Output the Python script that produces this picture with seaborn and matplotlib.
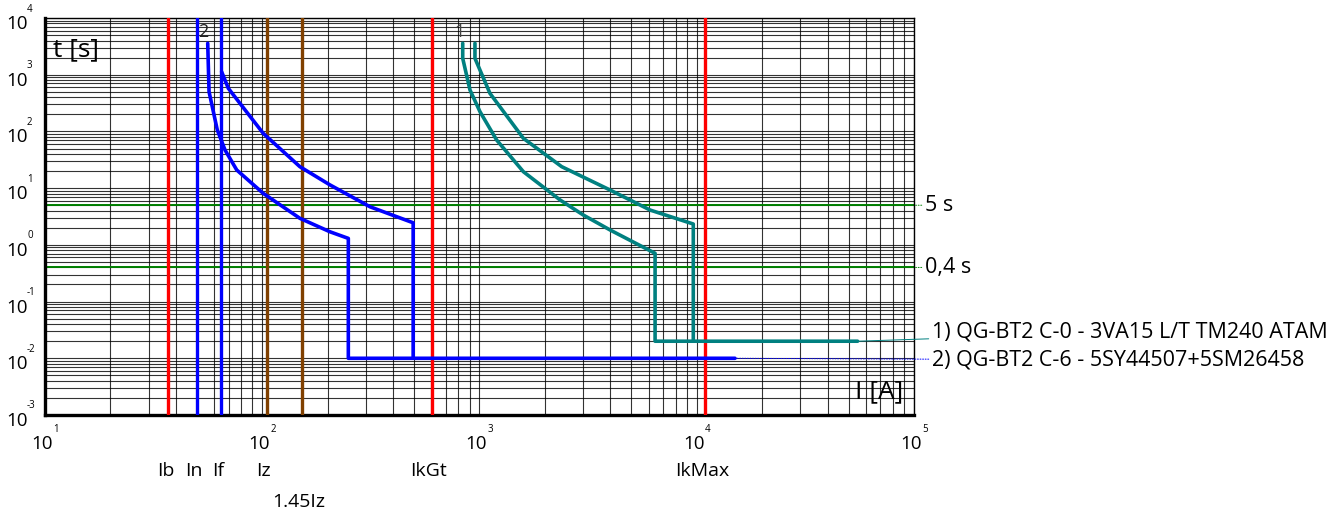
import numpy as np
import pandas as pd
import matplotlib
matplotlib.use("Agg")
import matplotlib.pyplot as plt
import seaborn as sns

# tripping curves (I [A], t [s])
c2_low_I = [56.1, 56.9, 62.1, 67.4, 76.3, 101, 149, 205, 249, 249, 15000]
c2_low_t = [3580, 502, 106, 47, 20.9, 8.1, 2.94, 1.7, 1.3, 0.01, 0.01]
c2_high_I = [65, 69.8, 101, 149, 205, 313, 495, 495]
c2_high_t = [1130, 575, 92.6, 23.9, 11.4, 4.7, 2.45, 0.01]

c1_low_I = [837, 837, 904, 1005, 1199, 1592, 2350, 3004, 3990, 6430, 6430, 55000]
c1_low_t = [3580, 1946, 538, 223, 70.6, 19.5, 6.18, 3.36, 1.83, 0.71, 0.02, 0.02]
c1_high_I = [953, 953, 1117, 1592, 2390, 3990, 6100, 9640, 9640]
c1_high_t = [3580, 1946, 470, 75.6, 23.9, 9.27, 4.11, 2.33, 0.02]

curve_names = ["1) QG-BT2 C-0 - 3VA15 L/T TM240 ATAM", "2) QG-BT2 C-6 - 5SY44507+5SM26458"]

# characteristic currents
cur_names = ["Ib", "In", "If", "Iz", "1.45Iz", "IkGt", "IkMax"]
cur_values = [37, 50, 64.5, 105, 152, 603, 10900]
cur_colors = ["#ff0000", "#0000ff", "#0000ff", "#804000", "#804000", "#ff0000", "#ff0000"]

# time limits
lim_names = ["5 s", "0,4 s"]
lim_values = [5, 0.4]

rows = []
for curve, branch, I, t in [("1", "1a", c1_low_I, c1_low_t), ("1", "1b", c1_high_I, c1_high_t),
                            ("2", "2a", c2_low_I, c2_low_t), ("2", "2b", c2_high_I, c2_high_t)]:
    for k, (i, tt) in enumerate(zip(I, t)):
        rows.append({"curve": curve, "branch": branch, "order": k, "I": i, "t": tt})
df = pd.DataFrame(rows)

sns.set_style("white")
plt.rcParams['font.family'] = ['Open Sans', 'DejaVu Sans']
plt.rcParams['text.color'] = 'black'

fig = plt.figure(figsize=(13.38, 5.16), dpi=100)
ax = fig.add_axes([45 / 1338, 1 - 415 / 516, 869 / 1338, 397 / 516])
ax.set_xscale("log")
ax.set_yscale("log")
ax.set_xlim(10, 1e5)
ax.set_ylim(1e-3, 1e4)

ax.grid(which="both", color="black", linewidth=0.8, alpha=0.8)
ax.set_axisbelow(True)

for name, val in zip(lim_names, lim_values):
    ax.axhline(val, color="#008000", lw=1.4, zorder=2)
    ax.annotate(name, xy=(1e5, val), xycoords="data",
                xytext=(11, 0), textcoords="offset pixels",
                fontsize=15.5, va="center", ha="left",
                arrowprops=dict(arrowstyle="-", color="#008000", lw=0.7, ls=":",
                                shrinkA=0, shrinkB=0), annotation_clip=False)

for name, val, col in zip(cur_names, cur_values, cur_colors):
    ax.axvline(val, color=col, lw=2.4, zorder=3)
    dy = -87 if name == "1.45Iz" else -56
    ax.annotate(name, xy=(val, 0), xycoords=("data", "axes fraction"),
                xytext=(-3, dy), textcoords="offset pixels",
                ha="center", va="center", fontsize=14, annotation_clip=False)

sns.lineplot(data=df, x="I", y="t", hue="curve", units="branch", estimator=None,
             sort=False, palette={"1": "#008080", "2": "#0000ff"},
             linewidth=2.6, legend=False, ax=ax, zorder=4)

# leader lines to curve names
ax.annotate(curve_names[0], xy=(55000, 0.02), xycoords="data",
            xytext=(1.0207, 0.209), textcoords="axes fraction",
            fontsize=15.5, va="center", ha="left",
            arrowprops=dict(arrowstyle="-", color="#008080", lw=0.7,
                            shrinkA=0, shrinkB=0), annotation_clip=False)
ax.annotate(curve_names[1], xy=(15000, 0.01), xycoords="data",
            xytext=(1.0207, 0.1385), textcoords="axes fraction",
            fontsize=15.5, va="center", ha="left",
            arrowprops=dict(arrowstyle="-", color="#0000ff", lw=0.7, ls=":",
                            shrinkA=0, shrinkB=0), annotation_clip=False)

ax.text(53.4, 5730, "2", fontsize=13, ha="center", va="center", color="#222222", zorder=5)
ax.text(805, 5730, "1", fontsize=13, ha="center", va="center", color="#444444", zorder=5)

ax.text(0.0092, 0.919, "t [s]", transform=ax.transAxes, fontsize=19, ha="left", va="center")
ax.text(0.9873, 0.0592, "I [A]", transform=ax.transAxes, fontsize=19, ha="right", va="center")

# decade labels drawn as 10 + raised exponent
ax.set_xticks([10 ** k for k in range(1, 6)])
ax.set_yticks([10.0 ** k for k in range(-3, 5)])
ax.set_xticklabels([])
ax.set_yticklabels([])
ax.tick_params(which="both", length=0)
for k in range(1, 6):
    ax.annotate("10", xy=(10 ** k, 0), xycoords=("data", "axes fraction"),
                xytext=(-3, -29), textcoords="offset pixels",
                ha="center", va="center", fontsize=13.5, annotation_clip=False)
    ax.annotate(str(k), xy=(10 ** k, 0), xycoords=("data", "axes fraction"),
                xytext=(8, -14), textcoords="offset pixels",
                ha="left", va="center", fontsize=7, annotation_clip=False)
for k in range(-3, 5):
    ax.annotate("10", xy=(0, 10.0 ** k), xycoords=("axes fraction", "data"),
                xytext=(-17, -6), textcoords="offset pixels",
                ha="right", va="center", fontsize=13.5, annotation_clip=False)
    ax.annotate(str(k), xy=(0, 10.0 ** k), xycoords=("axes fraction", "data"),
                xytext=(-18, 9), textcoords="offset pixels",
                ha="left", va="center", fontsize=7, annotation_clip=False)

for side in ["left", "bottom"]:
    ax.spines[side].set_linewidth(2.4)
    ax.spines[side].set_color("black")
for side in ["top", "right"]:
    ax.spines[side].set_linewidth(1.0)
    ax.spines[side].set_color("black")
ax.set_xlabel("")
ax.set_ylabel("")

fig.savefig("out.png", dpi=100)
